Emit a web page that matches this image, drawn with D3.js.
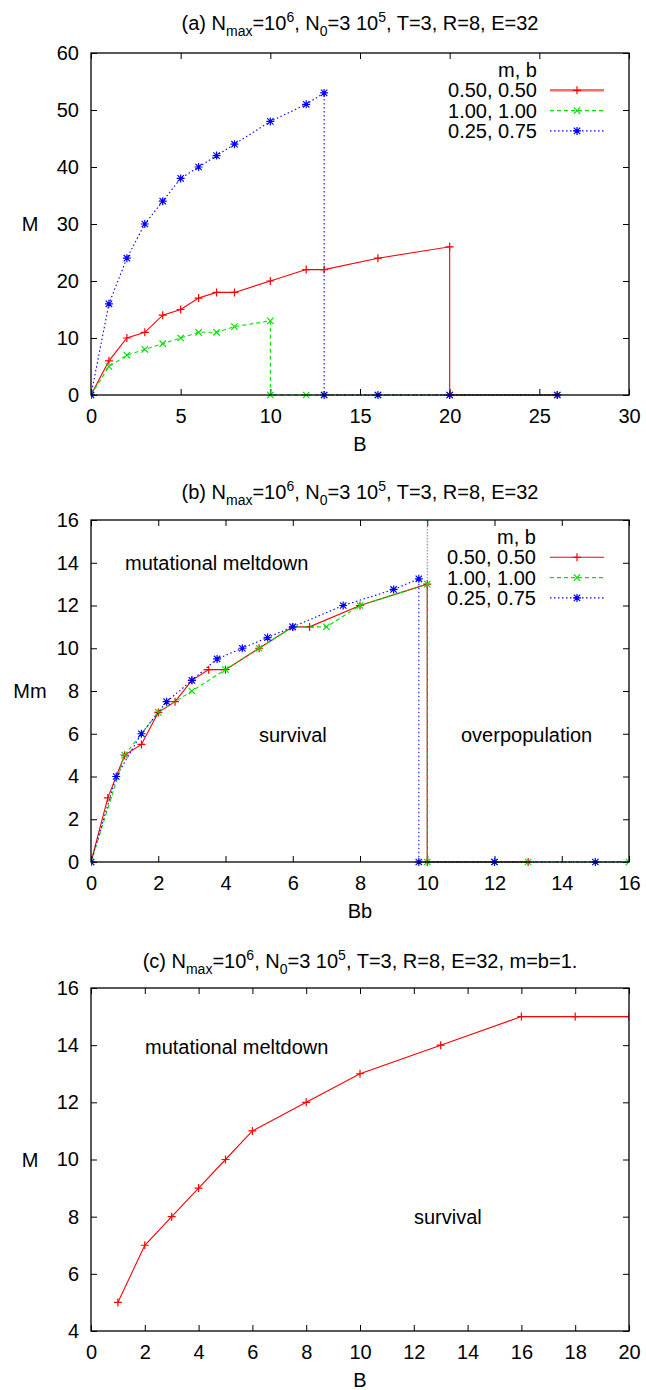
<!DOCTYPE html>
<html><head><meta charset="utf-8">
<script src="https://cdn.jsdelivr.net/npm/d3@7"></script>
<style>
body{margin:0;background:#fff;}
svg{display:block;font-family:"Liberation Sans",Arial,sans-serif;}
</style></head>
<body><svg id="c" width="646" height="1390"></svg>
<script>
// ---------- Data ----------
// Panel (a): M vs B
const aRedB   = [0,1,2,3,4,5,6,7,8,10,12,13,16,20,20,26];
const aRedM   = [0,6,10,11,14,15,17,18,18,20,22,22,24,26,0,0];
const aGreenB = [0,1,2,3,4,5,6,7,8,10,10,12,13,16,20,26];
const aGreenM = [0,5,7,8,9,10,11,11,12,13,0,0,0,0,0,0];
const aBlueB  = [0,1,2,3,4,5,6,7,8,10,12,13,13,16,20,26];
const aBlueM  = [0,16,24,30,34,38,40,42,44,48,51,53,0,0,0,0];
// Panel (b): Mm vs Bb
const bRedBb   = [0,0.5,1,1.5,2,2.5,3,3.5,4,5,6,6.5,8,10,10,13];
const bRedMm   = [0,3,5,5.5,7,7.5,8.5,9,9,10,11,11,12,13,0,0];
const bGreenBb = [0,1,2,3,4,5,6,7,8,10,10,12,13,16,20,26];
const bGreenMm = [0,5,7,8,9,10,11,11,12,13,0,0,0,0,0,0];
const bBlueBb  = [0,0.75,1.5,2.25,3,3.75,4.5,5.25,6,7.5,9,9.75,9.75,12,15,19.5];
const bBlueMm  = [0,4,6,7.5,8.5,9.5,10,10.5,11,12,12.75,13.25,0,0,0,0];
const bThreshold = 10;
// Panel (c): M vs B, m=b=1
const cB = [1,2,3,4,5,6,8,10,13,16,18,20];
const cM = [5,7,8,9,10,11,12,13,14,15,15,15];
// Legend / labels
const legendTitle = "m, b";
const seriesNames = ["0.50, 0.50","1.00, 1.00","0.25, 0.75"];
const aXTicks = [0,5,10,15,20,25,30], aYTicks = [0,10,20,30,40,50,60];
const bXTicks = [0,2,4,6,8,10,12,14,16], bYTicks = [0,2,4,6,8,10,12,14,16];
const cXTicks = [0,2,4,6,8,10,12,14,16,18,20], cYTicks = [4,6,8,10,12,14,16];

// ---------- Styles ----------
const styles = [
  {color:"#ff0000", dash:null, marker:"plus"},
  {color:"#00e000", dash:"4,3", marker:"cross"},
  {color:"#0000ff", dash:"1.5,2.5", marker:"star"}
];
const FONT = 20;
const svg = d3.select("#c");

function marker(g, type, x, y, color){
  const s = 4, t = 3.2;
  const p = d3.path();
  if (type==="plus"||type==="star"){ p.moveTo(x-s,y); p.lineTo(x+s,y); p.moveTo(x,y-s); p.lineTo(x,y+s); }
  if (type==="cross"||type==="star"){ p.moveTo(x-t,y-t); p.lineTo(x+t,y+t); p.moveTo(x-t,y+t); p.lineTo(x+t,y-t); }
  g.append("path").attr("d",p.toString()).attr("stroke",color).attr("stroke-width",1.2).attr("fill","none");
}

function title(parts, y){
  const t = svg.append("text").attr("x",360).attr("y",y).attr("text-anchor","middle").attr("font-size",FONT).attr("fill","#000");
  let shift = 0;
  parts.forEach(p=>{
    const [txt, kind] = p;
    let target = kind==="sub"?6:kind==="sup"?-8:0;
    const ts = t.append("tspan").text(txt).attr("dy", target-shift);
    if (kind) ts.attr("font-size",14);
    shift = target;
  });
}

function styleAxis(s, withText){
  s.select(".domain").remove();
  s.selectAll("line").attr("stroke","#000").attr("stroke-width",1);
  if (withText) s.selectAll("text").attr("font-size",FONT).attr("fill","#000").attr("font-family","Liberation Sans, Arial, sans-serif");
}

function panel(cfg){
  const x = d3.scaleLinear().domain(cfg.xd).range([91,629]);
  const y = d3.scaleLinear().domain(cfg.yd).range([cfg.bottom,cfg.top]);
  const g = svg.append("g");
  const id = "clip"+cfg.id;
  svg.append("clipPath").attr("id",id).append("rect")
     .attr("x",91).attr("y",cfg.top-6).attr("width",538).attr("height",cfg.bottom-cfg.top+12);
  // axes
  g.append("g").attr("transform",`translate(0,${cfg.bottom})`)
    .call(d3.axisBottom(x).tickValues(cfg.xt).tickSizeInner(-6).tickSizeOuter(0).tickPadding(14).tickFormat(d3.format("d")))
    .call(s=>styleAxis(s,true));
  g.append("g").attr("transform",`translate(91,0)`)
    .call(d3.axisLeft(y).tickValues(cfg.yt).tickSizeInner(-6).tickSizeOuter(0).tickPadding(12).tickFormat(d3.format("d")))
    .call(s=>styleAxis(s,true));
  g.append("g").attr("transform",`translate(0,${cfg.top})`)
    .call(d3.axisTop(x).tickValues(cfg.xt).tickSizeInner(-6).tickSizeOuter(0).tickFormat(""))
    .call(s=>styleAxis(s,false));
  g.append("g").attr("transform",`translate(629,0)`)
    .call(d3.axisRight(y).tickValues(cfg.yt).tickSizeInner(-6).tickSizeOuter(0).tickFormat(""))
    .call(s=>styleAxis(s,false));

  // extra vertical line
  if (cfg.vline!=null){
    g.append("line").attr("x1",x(cfg.vline)).attr("x2",x(cfg.vline)).attr("y1",cfg.top).attr("y2",cfg.bottom)
      .attr("stroke","#e040e0").attr("stroke-width",1).attr("stroke-dasharray","1.5,1.5");
  }
  // text annotations
  (cfg.notes||[]).forEach(n=>{
    g.append("text").attr("x",n[1]).attr("y",n[2]).attr("font-size",FONT).attr("dominant-baseline","central").text(n[0]);
  });
  // series
  const plot = g.append("g").attr("clip-path",`url(#${id})`);
  cfg.series.forEach((s,i)=>{
    const st = styles[s.style];
    const pts = s.x.map((v,k)=>[v,s.y[k]]);
    plot.append("path").attr("d", d3.line().x(d=>x(d[0])).y(d=>y(d[1]))(pts))
      .attr("fill","none").attr("stroke",st.color).attr("stroke-width",1.1)
      .attr("stroke-dasharray",st.dash);
    pts.forEach(d=>{
      if (d[0]>=cfg.xd[0]&&d[0]<=cfg.xd[1]&&d[1]>=cfg.yd[0]&&d[1]<=cfg.yd[1]) marker(plot, st.marker, x(d[0]), y(d[1]), st.color);
    });
  });
  // frame
  g.append("rect").attr("x",91).attr("y",cfg.top).attr("width",538).attr("height",cfg.bottom-cfg.top)
    .attr("fill","none").attr("stroke","#000").attr("stroke-width",1.3);
  // axis labels
  g.append("text").attr("x",360).attr("y",cfg.bottom+49).attr("text-anchor","middle").attr("dominant-baseline","central").attr("font-size",FONT).text(cfg.xl);
  g.append("text").attr("x",30).attr("y",(cfg.top+cfg.bottom)/2).attr("text-anchor","middle").attr("dominant-baseline","central").attr("font-size",FONT).text(cfg.yl);
  // legend
  if (cfg.legend){
    const L = cfg.legend;
    g.append("text").attr("x",L.x).attr("y",L.y).attr("text-anchor","end").attr("dominant-baseline","central").attr("font-size",FONT).text(legendTitle);
    seriesNames.forEach((nm,i)=>{
      const yy = L.y + 20.3*(i+1);
      const st = styles[i];
      g.append("text").attr("x",L.x).attr("y",yy).attr("text-anchor","end").attr("dominant-baseline","central").attr("font-size",FONT).text(nm);
      const thick = (i===0 && L.thickRed);
      g.append("line").attr("x1",550).attr("x2",604).attr("y1",yy).attr("y2",yy)
        .attr("stroke", thick?"#ff6a6a":st.color).attr("stroke-width",thick?2.4:1.1).attr("stroke-dasharray",st.dash);
      marker(g, st.marker, 577, yy, st.color);
    });
  }
}

// ---------- Panel (a) ----------
title([["(a) N"],["max","sub"],["=10"],["6","sup"],[", N"],["0","sub"],["=3 10"],["5","sup"],[", T=3, R=8, E=32"]], 30);
panel({id:"a", xd:[0,30], yd:[0,60], top:53, bottom:395, xt:aXTicks, yt:aYTicks, xl:"B", yl:"M",
  series:[{x:aRedB,y:aRedM,style:0},{x:aGreenB,y:aGreenM,style:1},{x:aBlueB,y:aBlueM,style:2}],
  legend:{x:537,y:70,thickRed:true}});

// ---------- Panel (b) ----------
title([["(b) N"],["max","sub"],["=10"],["6","sup"],[", N"],["0","sub"],["=3 10"],["5","sup"],[", T=3, R=8, E=32"]], 499);
panel({id:"b", xd:[0,16], yd:[0,16], top:520, bottom:862, xt:bXTicks, yt:bYTicks, xl:"Bb", yl:"Mm",
  vline:bThreshold,
  series:[{x:bRedBb,y:bRedMm,style:0},{x:bGreenBb,y:bGreenMm,style:1},{x:bBlueBb,y:bBlueMm,style:2}],
  legend:{x:536,y:537,thickRed:false},
  notes:[["mutational meltdown",125,563],["survival",259,735],["overpopulation",461,735]]});

// ---------- Panel (c) ----------
title([["(c) N"],["max","sub"],["=10"],["6","sup"],[", N"],["0","sub"],["=3 10"],["5","sup"],[", T=3, R=8, E=32, m=b=1."]], 968);
panel({id:"c", xd:[0,20], yd:[4,16], top:988, bottom:1331, xt:cXTicks, yt:cYTicks, xl:"B", yl:"M",
  series:[{x:cB,y:cM,style:0}],
  notes:[["mutational meltdown",145,1047],["survival",414,1217]]});
</script>
</body></html>
